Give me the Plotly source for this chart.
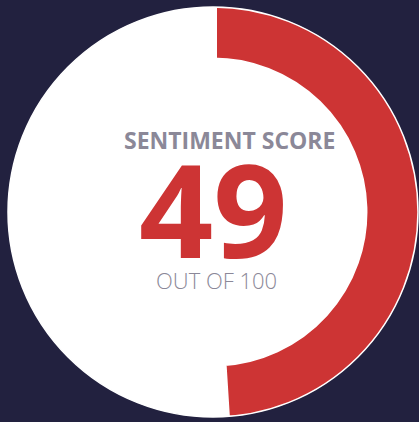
import plotly.graph_objects as go

score = [49]
total = [100]
labels = ["Score"]
title_text = "SENTIMENT SCORE"
sub_text = "OUT OF 100"

BG = "#22213f"
RED = "#cd3434"
GRAY = "#8b8898"
WHITE = "#ffffff"

frac = score[0] / total[0]
ring_base = 0.734

fig = go.Figure()
fig.add_trace(go.Barpolar(
    theta=[frac * 360 / 2], width=[frac * 360],
    base=[ring_base], r=[1.06 - ring_base],
    marker=dict(color=RED, line=dict(color=WHITE, width=8)),
    hoverinfo="skip", showlegend=False,
))

fig.add_annotation(x=0.540, y=0.675, xref="paper", yref="paper",
                   text=title_text, showarrow=False, xanchor="center", yanchor="middle",
                   font=dict(family="Open Sans", size=23, color=GRAY, weight="bold"))
fig.add_annotation(x=0.502, y=0.512, xref="paper", yref="paper",
                   text=str(score[0]), showarrow=False, xanchor="center", yanchor="middle",
                   font=dict(family="Open Sans", size=130, color=RED, weight="bold"))
fig.add_annotation(x=0.5085, y=0.334, xref="paper", yref="paper",
                   text=sub_text, showarrow=False, xanchor="center", yanchor="middle",
                   font=dict(family="Open Sans", size=22, color=GRAY, weight=300))

fig.update_layout(
    width=419, height=422,
    margin=dict(l=8, r=1, t=7, b=5),
    paper_bgcolor=BG, plot_bgcolor=BG,
    showlegend=False,
    polar=dict(
        domain=dict(x=[0, 1], y=[0, 1]),
        bgcolor=WHITE, hole=0,
        radialaxis=dict(range=[0, 1], visible=False, showgrid=False),
        angularaxis=dict(direction="clockwise", rotation=90, showgrid=False,
                         showticklabels=False, ticks="", showline=True,
                         linecolor=WHITE, linewidth=1.5),
    ),
)
fig.write_html("out.html")
